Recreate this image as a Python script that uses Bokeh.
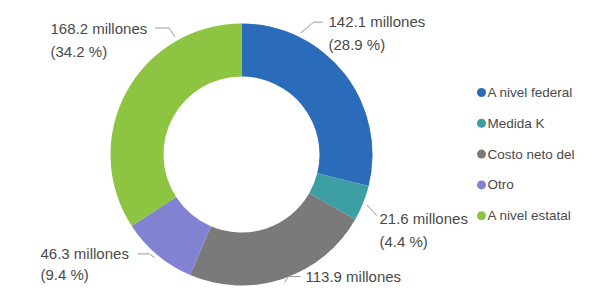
import numpy as np
from bokeh.plotting import figure
from bokeh.models import Range1d, ColumnDataSource
from bokeh.embed import file_html
from bokeh.resources import INLINE
from bokeh.core.properties import value

# ---------------- data ----------------
categories = ["A nivel federal", "Medida K", "Costo neto del", "Otro", "A nivel estatal"]
amounts = [142.1, 21.6, 113.9, 46.3, 168.2]          # millones
percents = [28.9, 4.4, 23.1, 9.4, 34.2]              # %
colors = ["#2B6CBA", "#3D9EA3", "#7A7A7A", "#8282D2", "#8DC441"]

# ---------------- layout (picture pixels, origin top-left) ----------------
W, H = 577, 287
FONT = "Liberation Sans"
TXT = "#4a4a4a"
LINE = "#9a9a9a"

def py(y):  # picture y -> data y
    return H - y

cx, cy = 241, 154
r_out, r_in = 131, 78

p = figure(width=W, height=H, x_range=Range1d(0, W), y_range=Range1d(0, H),
           output_backend="svg", toolbar_location=None, min_border=0)
p.axis.visible = False
p.grid.visible = False
p.outline_line_color = None
p.background_fill_color = "white"

vals = np.array(amounts, dtype=float)
frac = vals / vals.sum()
cum_after = np.cumsum(frac)
cum_before = cum_after - frac
start = np.pi / 2 - 2 * np.pi * cum_before
end = np.pi / 2 - 2 * np.pi * cum_after

src = ColumnDataSource(dict(start=start, end=end, color=colors, cat=categories))
p.annular_wedge(x=cx, y=py(cy), inner_radius=r_in, outer_radius=r_out,
                start_angle="start", end_angle="end", direction="clock",
                fill_color="color", line_color=None, source=src)

# ---------------- data labels with leader lines ----------------
mid_deg = 360 * (cum_before + frac / 2)          # clockwise from top
shift_deg = [-26, 0, 0, 0, 32]                   # label anchor shift (layout)
r_lead = 135
leader_pts = [
    [(13, -11), (22, -11)],
    [(10, 11)],
    [(4, -6), (16, -6)],
    [(-5, -4), (-17, -4)],
    [(-6, -9), (-20, -9)],
]
text_pos = [(328, 21), (379, 218), (305, 276), (40, 253), (50, 28)]
line_gaps = [23, 23, 23, 21, 23]
show_second = [True, True, False, True, True]

for i in range(len(amounts)):
    a = np.deg2rad(mid_deg[i] + shift_deg[i])
    sx = cx + r_lead * np.sin(a)
    sy = cy - r_lead * np.cos(a)
    xs = [sx] + [sx + dx for dx, dy in leader_pts[i]]
    ys = [py(sy)] + [py(sy + dy) for dx, dy in leader_pts[i]]
    p.line(xs, ys, line_color=LINE, line_width=1)
    tx, ty = text_pos[i]
    lines = [f"{amounts[i]} millones"]
    yy = [py(ty)]
    if show_second[i]:
        lines.append(f"({percents[i]} %)")
        yy.append(py(ty + line_gaps[i]))
    p.text(x=[tx] * len(lines), y=yy, text=lines,
           text_font=value(FONT), text_font_size="15px", text_color=TXT,
           text_align="left", text_baseline="middle")

# ---------------- legend ----------------
leg_x, leg_y0, leg_dy = 481, 92, 30.8
for i, cat in enumerate(categories):
    yy = leg_y0 + i * leg_dy
    p.scatter(x=[leg_x], y=[py(yy)], size=9, marker="circle",
              fill_color=colors[i], line_color=None)
    p.text(x=[leg_x + 6], y=[py(yy)], text=[cat], text_font=value(FONT),
           text_font_size="13.5px", text_color=TXT, text_align="left",
           text_baseline="middle")

open("out.html", "w").write(file_html(p, INLINE))
